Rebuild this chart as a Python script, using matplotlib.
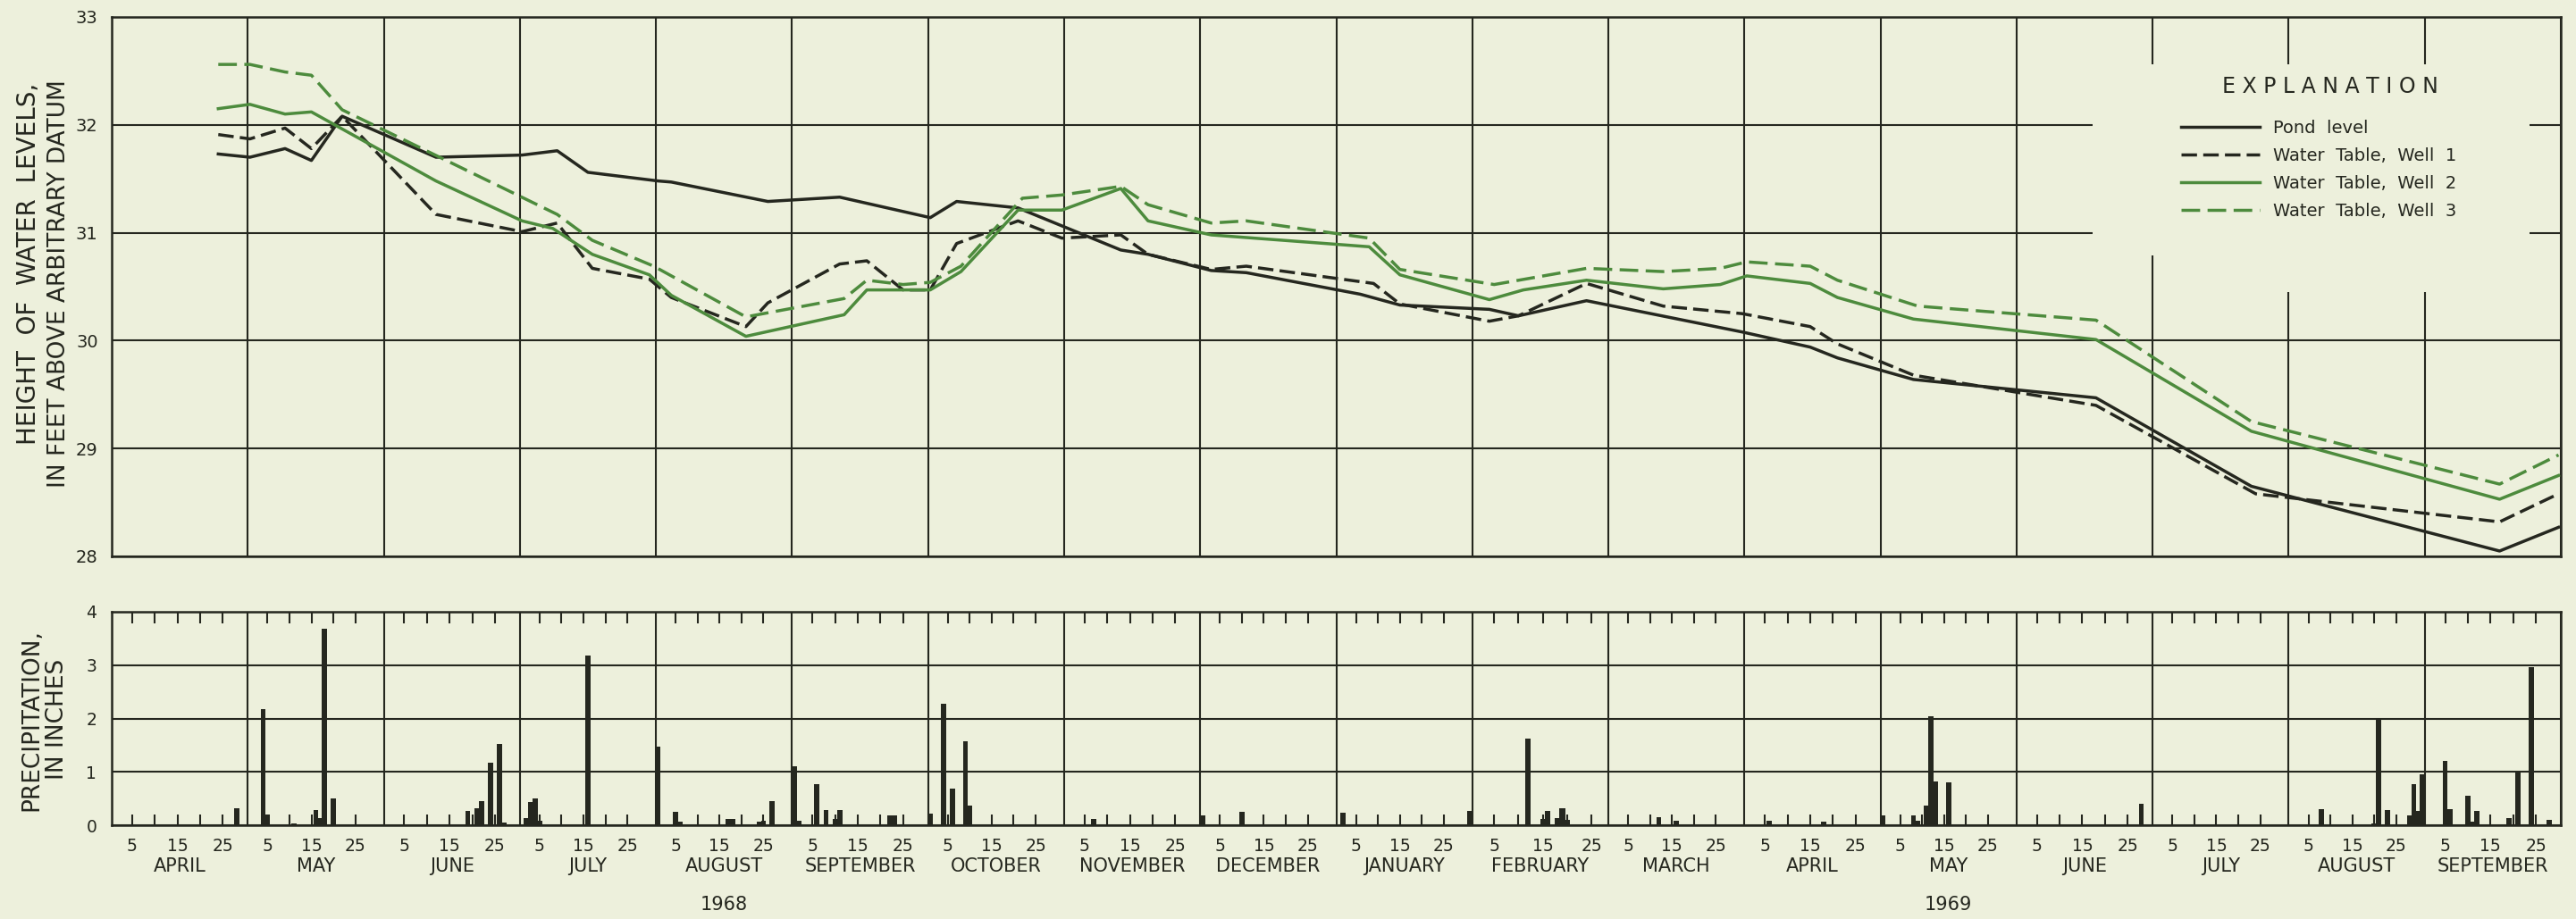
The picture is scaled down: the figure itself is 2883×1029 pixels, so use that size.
import calendar
import matplotlib.pyplot as plt
from matplotlib.patches import Polygon
import matplotlib.transforms as mtransforms

plt.rcParams['font.family'] = ['DejaVu Sans']

paper = '#edf0dc'
ink = '#25271f'
green = '#4d8b3d'

# water levels, feet above arbitrary datum
pond_dates = ['1968-04-24', '1968-05-01', '1968-05-09', '1968-05-15', '1968-05-22', '1968-06-12',
              '1968-07-01', '1968-07-09', '1968-07-16', '1968-08-01', '1968-08-04', '1968-08-26',
              '1968-09-11', '1968-10-01', '1968-10-07', '1968-10-21', '1968-11-13', '1968-11-19',
              '1968-12-03', '1968-12-11', '1969-01-06', '1969-01-15', '1969-02-04', '1969-02-10',
              '1969-02-24', '1969-03-31', '1969-04-15', '1969-04-21', '1969-05-08', '1969-06-18',
              '1969-07-23', '1969-09-17', '1969-09-30']
pond_level = [31.73, 31.70, 31.78, 31.67, 32.08, 31.70,
              31.72, 31.76, 31.56, 31.48, 31.47, 31.29,
              31.33, 31.14, 31.29, 31.23, 30.84, 30.80,
              30.65, 30.63, 30.43, 30.33, 30.29, 30.23,
              30.37, 30.08, 29.94, 29.84, 29.64, 29.47,
              28.65, 28.05, 28.27]

well1_dates = ['1968-04-24', '1968-05-01', '1968-05-09', '1968-05-15', '1968-05-22', '1968-06-12',
               '1968-07-01', '1968-07-09', '1968-07-17', '1968-07-30', '1968-08-04', '1968-08-21',
               '1968-08-26', '1968-09-11', '1968-09-17', '1968-09-25', '1968-10-01', '1968-10-07',
               '1968-10-21', '1968-10-31', '1968-11-13', '1968-11-19', '1968-12-03', '1968-12-11',
               '1969-01-09', '1969-01-15', '1969-02-04', '1969-02-10', '1969-02-24', '1969-03-13',
               '1969-03-31', '1969-04-15', '1969-04-21', '1969-05-08', '1969-06-18', '1969-07-24',
               '1969-09-17', '1969-09-30']
well1_level = [31.91, 31.87, 31.97, 31.78, 32.08, 31.17,
               31.01, 31.09, 30.67, 30.57, 30.40, 30.13,
               30.35, 30.71, 30.74, 30.47, 30.47, 30.90,
               31.11, 30.95, 30.98, 30.80, 30.66, 30.69,
               30.53, 30.34, 30.18, 30.23, 30.53, 30.32,
               30.25, 30.13, 29.97, 29.68, 29.40, 28.58,
               28.32, 28.58]

well2_dates = ['1968-04-24', '1968-05-01', '1968-05-09', '1968-05-15', '1968-06-12', '1968-07-01',
               '1968-07-08', '1968-07-17', '1968-07-30', '1968-08-04', '1968-08-21', '1968-09-12',
               '1968-09-17', '1968-10-01', '1968-10-08', '1968-10-21', '1968-10-31', '1968-11-13',
               '1968-11-19', '1968-12-03', '1969-01-08', '1969-01-15', '1969-02-04', '1969-02-11',
               '1969-02-24', '1969-03-13', '1969-03-26', '1969-04-01', '1969-04-15', '1969-04-21',
               '1969-05-08', '1969-06-18', '1969-07-23', '1969-09-17', '1969-09-30']
well2_level = [32.15, 32.19, 32.10, 32.12, 31.48, 31.11,
               31.04, 30.80, 30.61, 30.42, 30.04, 30.24,
               30.47, 30.47, 30.64, 31.21, 31.21, 31.41,
               31.11, 30.98, 30.87, 30.61, 30.38, 30.47,
               30.56, 30.48, 30.52, 30.60, 30.53, 30.40,
               30.20, 30.01, 29.16, 28.53, 28.75]

well3_dates = ['1968-04-24', '1968-05-01', '1968-05-09', '1968-05-15', '1968-05-22', '1968-07-09',
               '1968-07-17', '1968-07-31', '1968-08-21', '1968-09-12', '1968-09-17', '1968-09-25',
               '1968-10-01', '1968-10-08', '1968-10-22', '1968-10-31', '1968-11-13', '1968-11-19',
               '1968-12-03', '1968-12-11', '1969-01-08', '1969-01-15', '1969-02-05', '1969-02-24',
               '1969-03-13', '1969-03-26', '1969-04-01', '1969-04-15', '1969-04-21', '1969-05-09',
               '1969-06-18', '1969-07-23', '1969-09-17', '1969-09-30']
well3_level = [32.56, 32.56, 32.49, 32.46, 32.14, 31.17,
               30.93, 30.69, 30.22, 30.39, 30.56, 30.52,
               30.54, 30.69, 31.32, 31.35, 31.43, 31.26,
               31.09, 31.11, 30.95, 30.66, 30.52, 30.67,
               30.64, 30.67, 30.73, 30.69, 30.56, 30.32,
               30.19, 29.25, 28.67, 28.94]

# daily precipitation, inches
rain_dates = ['1968-04-28', '1968-05-04', '1968-05-05', '1968-05-11', '1968-05-16', '1968-05-17',
              '1968-05-18', '1968-05-20', '1968-06-19', '1968-06-21', '1968-06-22', '1968-06-24',
              '1968-06-26', '1968-06-27', '1968-07-02', '1968-07-03', '1968-07-04', '1968-07-05',
              '1968-07-16', '1968-08-01', '1968-08-05', '1968-08-06', '1968-08-17', '1968-08-18',
              '1968-08-24', '1968-08-25', '1968-08-27', '1968-09-01', '1968-09-02', '1968-09-06',
              '1968-09-08', '1968-09-10', '1968-09-11', '1968-09-22', '1968-09-23', '1968-10-01',
              '1968-10-04', '1968-10-06', '1968-10-09', '1968-10-10', '1968-11-07', '1968-12-01',
              '1968-12-10', '1969-01-02', '1969-01-31', '1969-02-12', '1969-02-15', '1969-02-16',
              '1969-02-18', '1969-02-19', '1969-02-20', '1969-03-12', '1969-03-16', '1969-04-06',
              '1969-04-18', '1969-05-01', '1969-05-08', '1969-05-09', '1969-05-11', '1969-05-12',
              '1969-05-13', '1969-05-16', '1969-06-28', '1969-08-08', '1969-08-20', '1969-08-21',
              '1969-08-23', '1969-08-28', '1969-08-29', '1969-08-30', '1969-08-31', '1969-09-05',
              '1969-09-06', '1969-09-10', '1969-09-11', '1969-09-12', '1969-09-19', '1969-09-21',
              '1969-09-24', '1969-09-28']
rain_inches = [0.31, 2.18, 0.20, 0.04, 0.28, 0.13,
               3.68, 0.51, 0.27, 0.31, 0.46, 1.17,
               1.52, 0.05, 0.14, 0.43, 0.51, 0.09,
               3.18, 1.48, 0.25, 0.07, 0.11, 0.11,
               0.06, 0.09, 0.46, 1.11, 0.09, 0.77,
               0.29, 0.12, 0.29, 0.18, 0.18, 0.21,
               2.28, 0.69, 1.58, 0.36, 0.12, 0.18,
               0.25, 0.23, 0.26, 1.62, 0.11, 0.26,
               0.14, 0.32, 0.10, 0.15, 0.09, 0.08,
               0.07, 0.19, 0.18, 0.08, 0.37, 2.05,
               0.82, 0.81, 0.40, 0.30, 0.04, 2.00,
               0.28, 0.19, 0.77, 0.26, 0.96, 1.20,
               0.30, 0.56, 0.07, 0.26, 0.14, 0.99,
               2.96, 0.10]

months = ['APRIL', 'MAY', 'JUNE', 'JULY', 'AUGUST', 'SEPTEMBER', 'OCTOBER', 'NOVEMBER',
          'DECEMBER', 'JANUARY', 'FEBRUARY', 'MARCH', 'APRIL', 'MAY', 'JUNE', 'JULY',
          'AUGUST', 'SEPTEMBER']
years = ['1968', '1969']


def month_len(k):
    y, m = 1968 + (k + 3) // 12, (k + 3) % 12 + 1
    return calendar.monthrange(y, m)[1]


def pos(s):
    # x axis unit = one month, April 1968 starts at 0
    y, m, d = (int(p) for p in s.split('-'))
    k = (y - 1968) * 12 + m - 4
    return k + (d - 0.5) / month_len(k)


W, H = 2883, 1029
fig = plt.figure(figsize=(W / 100, H / 100), dpi=100, facecolor=paper)


def box(l, t, r, b):
    return [l / W, 1 - b / H, (r - l) / W, (b - t) / H]


ax = fig.add_axes(box(125, 19, 2866, 623))
axp = fig.add_axes(box(125, 685, 2866, 924))

for a in (ax, axp):
    a.set_facecolor(paper)
    a.set_xlim(0, 18)
    a.set_xticks(range(19))
    a.set_axisbelow(True)
    a.grid(True, color=ink, lw=1.5)
    for s in a.spines.values():
        s.set_color(ink)
        s.set_linewidth(1.8)
    a.tick_params(axis='x', which='major', length=0, labelbottom=False)
    a.tick_params(axis='y', length=0, colors=ink)

# upper panel: water levels
ax.set_ylim(28, 33)
ax.set_yticks(range(28, 34))
ax.tick_params(axis='y', labelsize=14, pad=11)

xs = lambda dates: [pos(d) for d in dates]
l_pond, = ax.plot(xs(pond_dates), pond_level, color=ink, lw=2.5, zorder=3)
l_w1, = ax.plot(xs(well1_dates), well1_level, color=ink, lw=2.5, ls=(0, (5, 2)), zorder=3)
l_w2, = ax.plot(xs(well2_dates), well2_level, color=green, lw=2.5, zorder=3)
l_w3, = ax.plot(xs(well3_dates), well3_level, color=green, lw=2.5, ls=(0, (6, 2.4)), zorder=3)

# blank area behind the explanation
fx = lambda px: (px - 125) / 2741
fy = lambda py: 1 - (py - 19) / 604
knock = Polygon([(fx(2342), fy(72)), (fx(2831), fy(72)), (fx(2831), fy(327)),
                 (fx(2480), fy(327)), (fx(2480), fy(286)), (fx(2342), fy(286))],
                closed=True, transform=ax.transAxes, facecolor=paper, edgecolor='none', zorder=1)
ax.add_patch(knock)

ax.text(fx(2608), fy(97), 'E X P L A N A T I O N', transform=ax.transAxes,
        ha='center', va='center', fontsize=17, color=ink)
ax.legend([l_pond, l_w1, l_w2, l_w3],
          ['Pond  level', 'Water  Table,  Well  1', 'Water  Table,  Well  2', 'Water  Table,  Well  3'],
          loc='upper left', bbox_to_anchor=(fx(2441), fy(134)), frameon=False, borderpad=0,
          borderaxespad=0, handlelength=4.5, handletextpad=0.8, labelspacing=0.62,
          fontsize=14, labelcolor=ink)

# lower panel: precipitation
axp.set_ylim(0, 4)
axp.set_yticks(range(5))
axp.tick_params(axis='y', labelsize=13.5, pad=12)
widths = []
for d in rain_dates:
    y, m, _ = (int(p) for p in d.split('-'))
    widths.append(1.15 / calendar.monthrange(y, m)[1])
axp.bar(xs(rain_dates), rain_inches, width=widths, color=ink, zorder=3)

day_ticks, day_labels = [], []
for k in range(18):
    for d in (5, 10, 15, 20, 25):
        day_ticks.append(k + (d - 0.5) / month_len(k))
        day_labels.append(str(d) if d % 10 == 5 else '')
axp.set_xticks(day_ticks, minor=True)
axp.set_xticklabels(day_labels, minor=True)
axp.tick_params(axis='x', which='minor', direction='in', top=True, bottom=True,
                length=9, width=1.5, color=ink, labelsize=13.5, labelcolor=ink, pad=10)

blend = mtransforms.blended_transform_factory(axp.transData, axp.transAxes)
for k, name in enumerate(months):
    axp.text(k + 0.5, (924 - 970) / 239, name, transform=blend, ha='center', va='center',
             fontsize=15, color=ink)
for k, yr in zip((4, 13), years):
    axp.text(k + 0.5, (924 - 1013) / 239, yr, transform=blend, ha='center', va='center',
             fontsize=15, color=ink)

fig.text(32 / W, 1 - 93 / H, 'HEIGHT  OF  WATER  LEVELS,', rotation=90, ha='center', va='top',
         fontsize=20, color=ink)
fig.text(66 / W, 1 - 89 / H, 'IN FEET ABOVE ARBITRARY DATUM', rotation=90, ha='center', va='top',
         fontsize=19, color=ink)
fig.text(35 / W, 1 - 806 / H, 'PRECIPITATION,', rotation=90, ha='center', va='center',
         fontsize=19, color=ink)
fig.text(64 / W, 1 - 805 / H, 'IN INCHES', rotation=90, ha='center', va='center',
         fontsize=19, color=ink)

fig.savefig('out.png', dpi=100, facecolor=paper)
